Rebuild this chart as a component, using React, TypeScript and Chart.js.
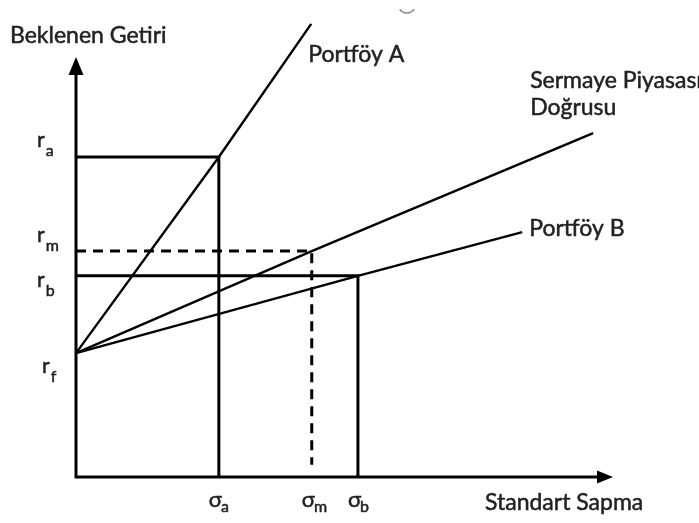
import React, { useEffect, useRef } from "react";
import { Chart, registerables } from "chart.js";

Chart.register(...registerables);

// Axis ticks (σ on x, r on y)
const xTickValues = [2.66, 4.39, 5.25];
const xTickSubs = ["a", "m", "b"];
const yTickValues = [7.62, 5.38, 4.79, 2.95];
const yTickSubs = ["a", "m", "b", "f"];

// Lines from the risk-free rate
const portfolioAX = [0, 2.66, 4.38];
const portfolioAY = [2.95, 7.62, 10.79];
const cmlX = [0, 4.39, 9.63];
const cmlY = [2.95, 5.38, 8.19];
const portfolioBX = [0, 5.25, 8.31];
const portfolioBY = [2.95, 4.79, 5.83];

// Guide lines
const guideAX = [0, 2.66, 2.66];
const guideAY = [7.62, 7.62, 0];
const guideBX = [0, 5.25, 5.25];
const guideBY = [4.79, 4.79, 0];
const guideMX = [0, 4.39, 4.39];
const guideMY = [5.38, 5.38, 0.29];

const axisTitleY = "Beklenen Getiri";
const axisTitleX = "Standart Sapma";
const labelA = "Portföy A";
const labelCML = ["Sermaye Piyasası", "Doğrusu"];
const labelB = "Portföy B";

const pts = (xs: number[], ys: number[]) => xs.map((x, i) => ({ x, y: ys[i] }));

const FONT = "Lato, 'Open Sans', sans-serif";
const TXT = "#222";

function txt(ctx: CanvasRenderingContext2D, s: string, x: number, y: number) {
  ctx.fillText(s, x, y);
  ctx.strokeText(s, x, y);
}

const diagramPlugin = {
  id: "diagram",
  beforeDatasetsDraw(chart: any) {
    const ctx = chart.ctx;
    const xs = chart.scales.x;
    const ys = chart.scales.y;
    const x0 = xs.getPixelForValue(0);
    const y0 = ys.getPixelForValue(0);
    const xEnd = xs.getPixelForValue(10);
    const yEnd = ys.getPixelForValue(10);
    ctx.save();
    ctx.strokeStyle = "#000";
    ctx.fillStyle = "#000";
    ctx.lineWidth = 3;
    ctx.beginPath();
    ctx.moveTo(x0, y0);
    ctx.lineTo(x0, yEnd + 14);
    ctx.moveTo(x0 - 1.5, y0);
    ctx.lineTo(xEnd - 12, y0);
    ctx.stroke();
    // arrowheads
    ctx.beginPath();
    ctx.moveTo(x0, yEnd);
    ctx.lineTo(x0 - 7.5, yEnd + 18);
    ctx.lineTo(x0 + 7.5, yEnd + 18);
    ctx.closePath();
    ctx.fill();
    ctx.beginPath();
    ctx.moveTo(xEnd, y0);
    ctx.lineTo(xEnd - 16, y0 - 6.5);
    ctx.lineTo(xEnd - 16, y0 + 6.5);
    ctx.closePath();
    ctx.fill();
    ctx.restore();
  },
  afterDatasetsDraw(chart: any) {
    const ctx = chart.ctx;
    const xs = chart.scales.x;
    const ys = chart.scales.y;
    const x0 = xs.getPixelForValue(0);
    const y0 = ys.getPixelForValue(0);
    ctx.save();
    ctx.fillStyle = TXT;
    ctx.strokeStyle = TXT;
    ctx.lineWidth = 0.5;
    ctx.textBaseline = "alphabetic";
    ctx.textAlign = "left";

    // y tick labels (r with subscript)
    const yOffsets = [-10, -9, 11, 20];
    yTickValues.forEach((v, i) => {
      const py = ys.getPixelForValue(v) + yOffsets[i];
      ctx.font = `21px ${FONT}`;
      const rx = x0 - 39 + (i === 3 ? 5 : 0);
      txt(ctx, "r", rx, py);
      const rw = ctx.measureText("r").width;
      ctx.font = `16px ${FONT}`;
      txt(ctx, yTickSubs[i], rx + rw + 1, py + 9);
    });

    // x tick labels (σ with subscript)
    xTickValues.forEach((v, i) => {
      const px = xs.getPixelForValue(v) - 10;
      const py = y0 + 30;
      ctx.font = `22px ${FONT}`;
      txt(ctx, "σ", px, py);
      const w = ctx.measureText("σ").width;
      ctx.font = `16px ${FONT}`;
      txt(ctx, xTickSubs[i], px + w - 1, py + 5);
    });

    ctx.font = `23px ${FONT}`;
    // axis titles
    txt(ctx, axisTitleY, 10, 43);
    txt(ctx, axisTitleX, 485, 510);

    // line labels near the end points
    const aEnd = { x: xs.getPixelForValue(portfolioAX[2]), y: ys.getPixelForValue(portfolioAY[2]) };
    txt(ctx, labelA, aEnd.x - 3, aEnd.y + 38);
    const cEnd = { x: xs.getPixelForValue(cmlX[2]), y: ys.getPixelForValue(cmlY[2]) };
    txt(ctx, labelCML[0], cEnd.x - 63, cEnd.y - 45);
    txt(ctx, labelCML[1], cEnd.x - 63, cEnd.y - 18);
    const bEnd = { x: xs.getPixelForValue(portfolioBX[2]), y: ys.getPixelForValue(portfolioBY[2]) };
    txt(ctx, labelB, bEnd.x + 7, bEnd.y + 4);

    // small grey arc artifact at the top
    ctx.strokeStyle = "#8a8a8a";
    ctx.lineWidth = 1.5;
    ctx.beginPath();
    ctx.arc(407, 4, 9, Math.PI * 0.2, Math.PI * 0.8);
    ctx.stroke();
    ctx.restore();
  },
};

export default function App() {
  const ref = useRef<HTMLCanvasElement>(null);
  useEffect(() => {
    document.body.style.margin = "0";
    const line = (xs: number[], ys: number[], w: number, dash: number[] = []) => ({
      type: "line" as const,
      data: pts(xs, ys),
      borderColor: "#000",
      borderWidth: w,
      borderDash: dash,
      pointRadius: 0,
      fill: false,
      tension: 0,
      clip: false as any,
      borderCapStyle: "butt" as const,
      borderJoinStyle: "miter" as const,
    });
    const chart = new Chart(ref.current!, {
      type: "scatter",
      data: {
        datasets: [
          line(guideAX, guideAY, 3),
          line(guideBX, guideBY, 3),
          line(guideMX, guideMY, 3, [10, 7]),
          line(portfolioAX, portfolioAY, 2.4),
          line(cmlX, cmlY, 2.4),
          line(portfolioBX, portfolioBY, 2.4),
        ] as any,
      },
      options: {
        animation: false,
        responsive: false,
        layout: { padding: { left: 76, right: 86, top: 57, bottom: 46 } },
        scales: {
          x: { type: "linear", min: 0, max: 10, display: false },
          y: { type: "linear", min: 0, max: 10, display: false },
        },
        plugins: { legend: { display: false }, tooltip: { enabled: false } },
      },
      plugins: [diagramPlugin],
    });
    return () => chart.destroy();
  }, []);
  return (
    <div style={{ width: 699, height: 523, background: "#fff" }}>
      <canvas ref={ref} width={699} height={523} />
    </div>
  );
}
